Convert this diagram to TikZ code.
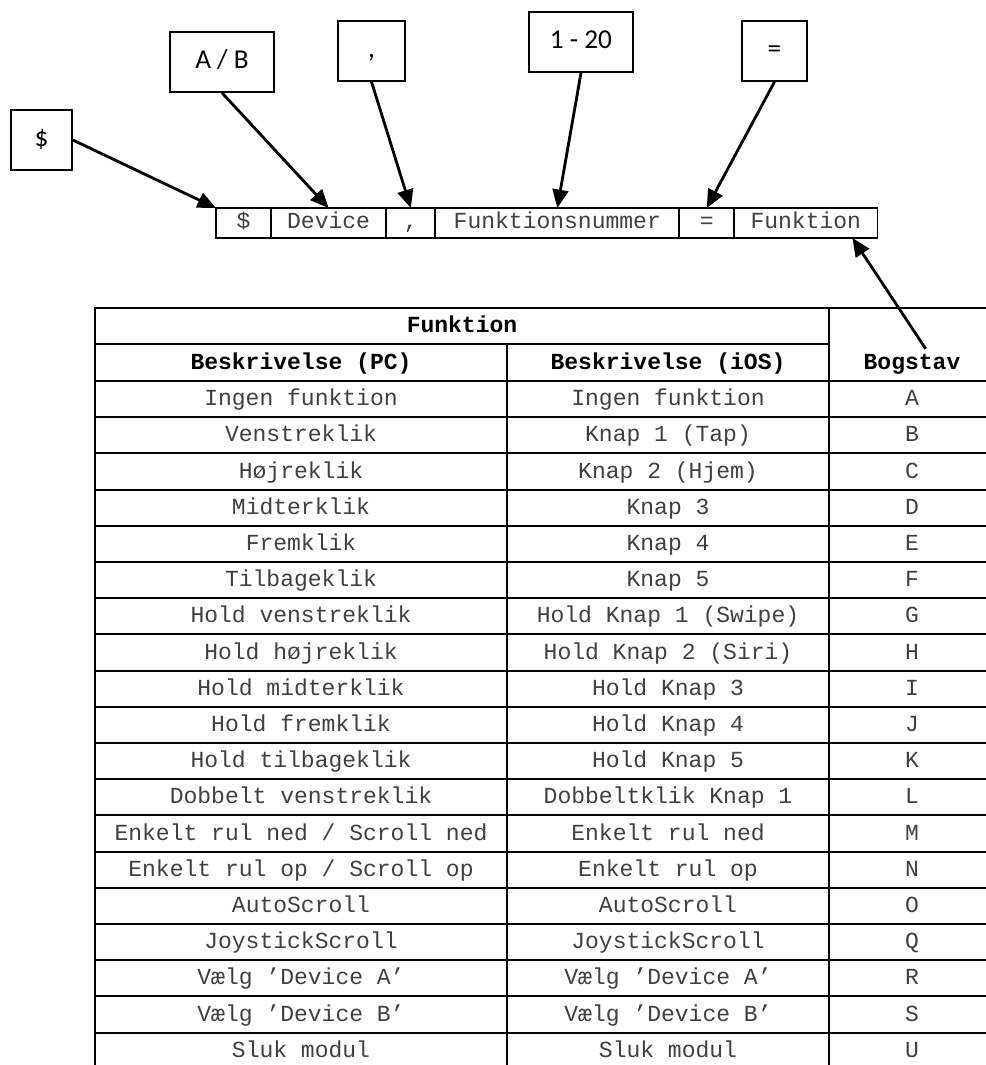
\documentclass[tikz,border=0pt]{standalone}
\usepackage{fontspec}
\setmainfont{Carlito}
\setmonofont{Liberation Mono}
\usetikzlibrary{arrows.meta,calc,positioning}

\begin{document}
\begin{tikzpicture}[x=0.02cm, y=-0.02cm, >={Triangle[length=10.5pt,width=9pt]},
  tag/.style={draw, line width=1.1pt, inner sep=0pt, minimum height=34pt, font=\fontsize{15.5}{18}\selectfont, text height=10pt, text depth=3pt},
  cell/.style={draw, line width=1.1pt, inner sep=0pt, outer sep=0pt, minimum height=17pt, font=\ttfamily\fontsize{13.1}{15}\selectfont, text height=8pt, text depth=2.3pt, text=black!75},
  txt/.style={font=\ttfamily\fontsize{13.1}{15}\selectfont, text height=8pt, text depth=2.3pt, text=black!75},
  head/.style={txt, font=\ttfamily\bfseries\fontsize{13.1}{15}\selectfont, text=black},
  grid/.style={line width=1.1pt},
  link/.style={->, line width=1.6pt}]
\useasboundingbox (0,0) rectangle (986,1065);

% labels on top
\node[tag, minimum width=34.6pt, minimum height=34.6pt] (dollarbox) at (41.5,140) {\$};
\node[tag, minimum width=59pt] (devbox) at (222,62) {A / B};
\node[tag, minimum width=38pt] (commabox) at (371.5,51) {,};
\node[tag, minimum width=59pt] (numbox) at (581,42) {1 - 20};
\node[tag, minimum width=36.8pt] (eqbox) at (774.5,51) {=};

% the command string
\node[cell, anchor=west, minimum width=31.2pt] (dollar) at (216,223) {\$};
\node[cell, right=0pt of dollar, minimum width=65.8pt] (device) {Device};
\node[cell, right=0pt of device, minimum width=27.8pt] (comma) {,};
\node[cell, right=0pt of comma, minimum width=138.9pt] (nummer) {Funktionsnummer};
\node[cell, right=0pt of nummer, minimum width=31.2pt] (eq) {=};
\node[cell, right=0pt of eq, minimum width=81.6pt] (fkt) {Funktion};

% table
\begin{scope}
\clip (0,0) rectangle (986,1065);
\draw[grid] (95,1069) -- (95,308) -- (995,308) -- (995,1069) -- cycle;
\draw[grid] (95,344) -- (829,344);
\draw[grid] (829,308) -- (829,1069);
\draw[grid] (507,344) -- (507,1069);
\foreach \r in {0,...,18}
  \draw[grid] (95,{381+\r*36.2}) -- (995,{381+\r*36.2});
\end{scope}

\node[head] (funktion) at (462,327) {Funktion};
\node[head] (pchead) at (301,364) {Beskrivelse (PC)};
\node[head] (ioshead) at (668,364) {Beskrivelse (iOS)};
\node[head] (bogstav) at (912,364) {Bogstav};

\foreach \pc/\ios/\bog [count=\i from 0] in {
  Ingen funktion/Ingen funktion/A,
  Venstreklik/Knap 1 (Tap)/B,
  Højreklik/Knap 2 (Hjem)/C,
  Midterklik/Knap 3/D,
  Fremklik/Knap 4/E,
  Tilbageklik/Knap 5/F,
  Hold venstreklik/Hold Knap 1 (Swipe)/G,
  Hold højreklik/Hold Knap 2 (Siri)/H,
  Hold midterklik/Hold Knap 3/I,
  Hold fremklik/Hold Knap 4/J,
  Hold tilbageklik/Hold Knap 5/K,
  Dobbelt venstreklik/Dobbeltklik Knap 1/L,
  {Enkelt rul ned / Scroll ned}/Enkelt rul ned/M,
  {Enkelt rul op / Scroll op}/Enkelt rul op/N,
  AutoScroll/AutoScroll/O,
  JoystickScroll/JoystickScroll/Q,
  Vælg ’Device A’/Vælg ’Device A’/R,
  Vælg ’Device B’/Vælg ’Device B’/S,
  Sluk modul/Sluk modul/U}
{
  \node[txt] (pc-\i) at (301,{400.6+\i*36.2}) {\pc};
  \node[txt] (ios-\i) at (668,{400.6+\i*36.2}) {\ios};
  \node[txt] (bog-\i) at (912,{400.6+\i*36.2}) {\bog};
}

% arrows
\draw[link] (dollarbox.east) -- (dollar.north west);
\draw[link] (devbox.south) -- (device.north);
\draw[link] (commabox.south) -- (comma.north);
\draw[link] (numbox.south) -- (nummer.north);
\draw[link] (eqbox.south) -- (eq.north);
\draw[link] ($(bogstav.north)!0.25!(bogstav.north east)$) -- ($(fkt.south)!0.65!(fkt.south east)$);
\end{tikzpicture}
\end{document}
